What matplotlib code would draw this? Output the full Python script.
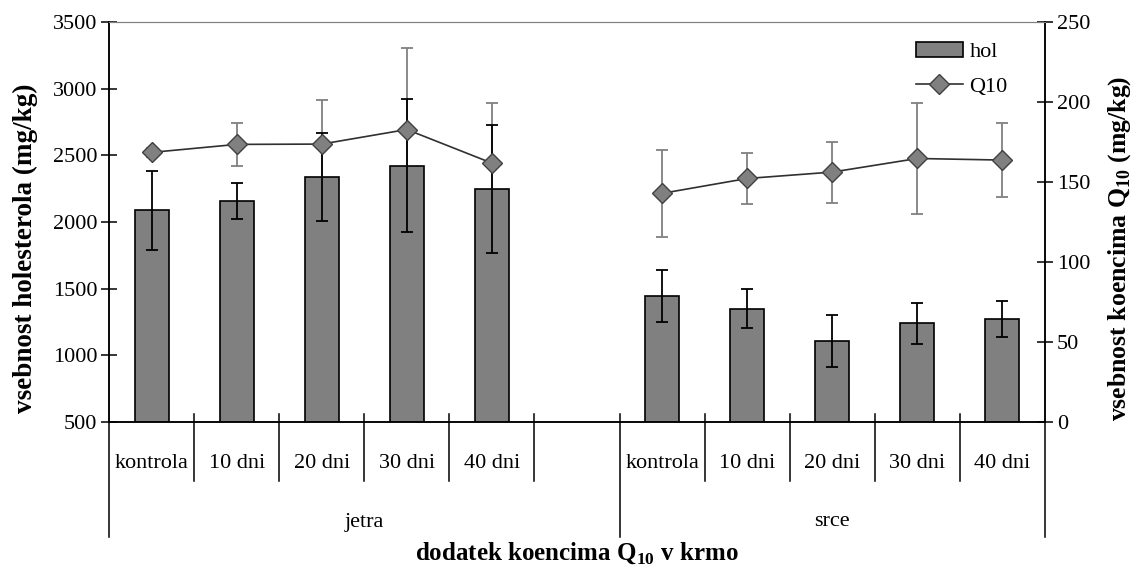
import numpy as np
import matplotlib
matplotlib.use("Agg")
import matplotlib.pyplot as plt

plt.rcParams['font.family'] = ['Liberation Serif', 'DejaVu Serif']
plt.rcParams['mathtext.fontset'] = 'custom'
plt.rcParams['mathtext.rm'] = 'Liberation Serif'
plt.rcParams['mathtext.bf'] = 'Liberation Serif:bold'

# data
categories = ['kontrola', '10 dni', '20 dni', '30 dni', '40 dni']
groups = ['jetra', 'srce']

hol_jetra = [2087, 2157, 2339, 2422, 2247]
hol_jetra_err = [297, 134, 332, 500, 483]
hol_srce = [1446, 1351, 1111, 1239, 1274]
hol_srce_err = [196, 149, 195, 155, 137]

q10_jetra = [168.5, 173.5, 173.7, 182.8, 161.8]
q10_jetra_err = [3, 13.4, 27.6, 51, 37.7]
q10_srce = [142.9, 152.2, 156.2, 164.7, 163.7]
q10_srce_err = [27.2, 15.7, 19.1, 34.4, 23.0]

# 5 jetra slots, one empty slot, 5 srce slots
x_jetra = np.arange(len(categories))
x_srce = np.arange(len(categories)) + len(categories) + 1
n_slots = 2 * len(categories) + 1

W, H = 1137, 569
fig = plt.figure(figsize=(W / 100, H / 100), dpi=100)
ax = fig.add_axes([109 / W, 1 - 422 / H, 936 / W, 400 / H])
ax2 = ax.twinx()
ax.set_xlim(-0.5, n_slots - 0.5)
ax.set_ylim(500, 3500)
ax.set_yticks(np.arange(500, 3501, 500))
ax2.set_ylim(0, 250)
ax2.set_yticks(np.arange(0, 251, 50))

fs = 16
hx = np.concatenate([x_jetra, x_srce])
hy = np.concatenate([hol_jetra, hol_srce])
he = np.concatenate([hol_jetra_err, hol_srce_err])
bars = ax.bar(hx, hy, width=0.4, color='#808080', edgecolor='black', linewidth=1.2,
              zorder=2, label='hol')

# Q10 drawn in the right-axis units, but inside ax so the layering matches
qx = np.concatenate([x_jetra, [len(categories)], x_srce])
qy = np.concatenate([q10_jetra, [np.nan], q10_srce])
qe = np.concatenate([q10_jetra_err, [np.nan], q10_srce_err])
ax.errorbar(qx, qy, yerr=qe, fmt='none', ecolor='#808080', elinewidth=1.3,
            capsize=4.5, capthick=1.3, zorder=3, transform=ax2.transData)
ax.errorbar(hx, hy, yerr=he, fmt='none', ecolor='black', elinewidth=1.3,
            capsize=4.5, capthick=1.3, zorder=4)
qline, = ax.plot(qx, qy, color='#303030', linewidth=1.2, marker='D', markersize=10,
                 markerfacecolor='#808080', markeredgecolor='#404040', markeredgewidth=1,
                 label='Q10', zorder=5, transform=ax2.transData)
ax.set_xlim(-0.5, n_slots - 0.5)
ax.set_ylim(500, 3500)

for a in (ax, ax2):
    a.tick_params(axis='y', direction='inout', length=11, width=1.1, labelsize=fs, pad=3)
    a.spines['top'].set_color('#808080')
    for s in ('left', 'right', 'bottom'):
        a.spines[s].set_color('black')
        a.spines[s].set_linewidth(1.1)
ax.set_xticks([])
ax2.set_xticks([])

# multi-level category axis
tr = ax.get_xaxis_transform()
line_kw = dict(color='black', linewidth=1.1, transform=tr, clip_on=False)
for b in range(1, n_slots):
    if b == len(categories) + 1:
        continue
    ax.plot([b - 0.5, b - 0.5], [0.02, -0.1475], **line_kw)
for b, top in ((-0.5, 0), (len(categories) + 0.5, 0.02), (n_slots - 0.5, 0)):
    ax.plot([b, b], [top, -0.2875], **line_kw)

for i, c in enumerate(categories):
    ax.text(x_jetra[i], -0.105, c, transform=tr, ha='center', va='center', fontsize=fs)
    ax.text(x_srce[i], -0.105, c, transform=tr, ha='center', va='center', fontsize=fs)
ax.text(len(categories) / 2, -0.25, groups[0], transform=tr, ha='center', va='center', fontsize=fs)
ax.text(x_srce.mean(), -0.25, groups[1], transform=tr, ha='center', va='center', fontsize=fs)

fig.text(0.022, 0.564, 'vsebnost holesterola (mg/kg)', rotation=90, ha='center', va='center',
         fontsize=19.5, fontweight='bold')
fig.text(0.985, 0.564, r'vsebnost koencima Q$_{\mathbf{10}}$ (mg/kg)', rotation=90,
         ha='center', va='center', fontsize=18.5, fontweight='bold')
fig.text(577 / W, 1 - 553 / H, r'dodatek koencima Q$_{\mathbf{10}}$ v krmo', ha='center',
         va='center', fontsize=18, fontweight='bold')

ax.legend([bars, qline], ['hol', 'Q10'], loc='upper left', bbox_to_anchor=(916 / W, 1 - 42 / H),
          bbox_transform=fig.transFigure, frameon=False, fontsize=fs, borderpad=0,
          borderaxespad=0, handlelength=2.1, handleheight=0.63, handletextpad=0.3,
          labelspacing=0.65, numpoints=1)

fig.savefig('out.png', dpi=100)
